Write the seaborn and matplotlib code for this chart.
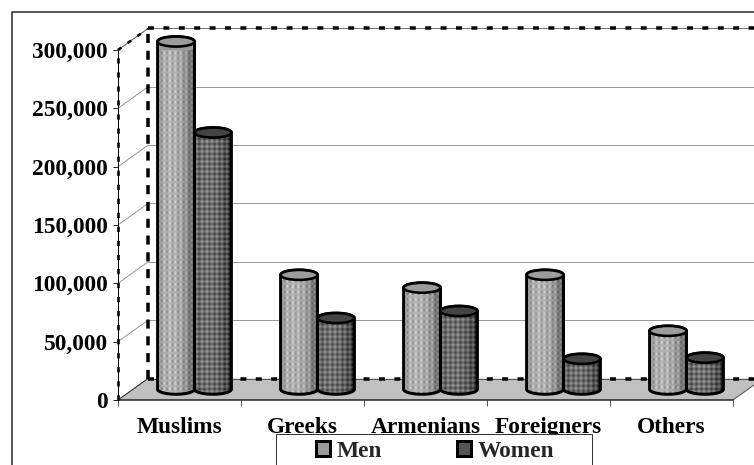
import numpy as np
import pandas as pd
import matplotlib
matplotlib.use("Agg")
import matplotlib.pyplot as plt
import seaborn as sns
from matplotlib.patches import Ellipse, PathPatch, Polygon, Rectangle, Patch
from matplotlib.path import Path
from matplotlib.transforms import Affine2D, IdentityTransform

communities = ["Muslims", "Greeks", "Armenians", "Foreigners", "Others"]
men = [298000, 98000, 87000, 98000, 50000]
women = [220000, 61000, 67000, 26000, 27000]
y_ticks = [0, 50000, 100000, 150000, 200000, 250000, 300000]

W, H = 754, 465
DEPTH_X, DEPTH_Y = 30, 21.5
ELLIPSE_H = 10

sns.set_theme(style="white")
plt.rcParams["font.family"] = ["Liberation Serif", "DejaVu Serif"]
plt.rcParams["font.weight"] = "bold"
FS = 16.8
PX = 0.72  # points per pixel at 100 dpi

fig = plt.figure(figsize=(W / 100, H / 100), dpi=100, facecolor="white")
ax = fig.add_axes([118 / W, (H - 400) / H, 615 / W, 350 / H])
ax.patch.set_visible(False)

df = pd.DataFrame({
    "community": communities * 2,
    "sex": ["Men"] * len(men) + ["Women"] * len(women),
    "count": men + women,
})
sns.barplot(data=df, x="community", y="count", hue="sex", order=communities,
            hue_order=["Men", "Women"], palette=["#9a9a9a", "#555555"],
            width=0.6, gap=0, legend=False, ax=ax, saturation=1)
bars = [p for p in ax.patches if isinstance(p, Rectangle)]
ax.set_xlim(-0.5, 4.5)
ax.set_ylim(0, 300000)
ax.set_xlabel("")
ax.set_ylabel("")
for s in ax.spines.values():
    s.set_visible(False)


def at_depth(f):
    return ax.transData + Affine2D().translate(f * DEPTH_X, f * DEPTH_Y)


# Back wall gridlines and their slanted returns to the front axis
for v in y_ticks[1:-1]:
    ax.plot([-0.5, 4.7], [v, v], transform=at_depth(1), color="#999999",
            lw=1 * PX, clip_on=False, zorder=1)
    a = ax.transData.transform((-0.5, v))
    ax.plot([a[0], a[0] + DEPTH_X], [a[1], a[1] + DEPTH_Y],
            transform=IdentityTransform(), color="#999999", lw=1 * PX,
            clip_on=False, zorder=1)

# Floor
p0 = ax.transData.transform((-0.5, 0))
p1 = ax.transData.transform((4.5, 0))
ax.add_patch(Polygon([p0, p0 + (DEPTH_X, DEPTH_Y), p1 + (DEPTH_X, DEPTH_Y), p1],
                     transform=IdentityTransform(), facecolor="#c0c0c0",
                     edgecolor="none", clip_on=False, zorder=1.5))
ax.plot([p1[0], p1[0] + DEPTH_X], [p1[1], p1[1] + DEPTH_Y],
        transform=IdentityTransform(), color="#555555", lw=1 * PX,
        clip_on=False, zorder=1.6)
ax.plot([-0.5, 4.5], [0, 0], color="#222222", lw=1.5 * PX, clip_on=False, zorder=2)

# Dashed wall outline
top = ax.transData.transform((-0.5, 300000))
ax.plot([-0.5, 4.7], [300000, 300000], transform=at_depth(1), color="#777777",
        lw=1 * PX, clip_on=False, zorder=1.8)
ax.plot([-0.5, 4.7], [300000, 300000], transform=at_depth(1), color="black",
        lw=3.5 * PX, ls=(0, (1.7, 2.7)), clip_on=False, zorder=2, dash_capstyle="butt")
ax.plot([-0.5, 4.7], [0, 0], transform=at_depth(1), color="#555555",
        lw=1 * PX, clip_on=False, zorder=1.8)
ax.plot([-0.5, 4.7], [0, 0], transform=at_depth(1), color="black",
        lw=3.5 * PX, ls=(0, (1.7, 2.7)), clip_on=False, zorder=2, dash_capstyle="butt")
ax.plot([-0.5, -0.5], [0, 300000], transform=at_depth(1), color="black",
        lw=3.5 * PX, ls=(0, (2.6, 2.2)), clip_on=False, zorder=2, dash_capstyle="butt")
ax.plot([-0.5, -0.5], [0, 300000], color="black", lw=1 * PX, clip_on=False, zorder=2)
ax.plot([-0.5, -0.5], [0, 300000], color="black", lw=2.6 * PX,
        ls=(0, (2.0, 3.4)), clip_on=False, zorder=2, dash_capstyle="butt")
for q, c in ((p0, "#222222"), (top, "#555555")):
    ax.plot([q[0], q[0] + DEPTH_X], [q[1], q[1] + DEPTH_Y],
            transform=IdentityTransform(), color=c, lw=1 * PX,
            clip_on=False, zorder=2)
ax.plot([top[0], top[0] + DEPTH_X], [top[1], top[1] + DEPTH_Y],
        transform=IdentityTransform(), color="black", lw=2.6 * PX,
        ls=(0, (1.6, 3.0)), clip_on=False, zorder=2, dash_capstyle="butt")


def shaded_fabric(w, h, dark):
    """Cylinder shading with a woven dot or lattice pattern, one cell per pixel."""
    xs = np.arange(w)
    ys = np.arange(h)
    xx, yy = np.meshgrid(xs, ys)
    u = (xx + 0.5) / w
    body = np.clip(1 - ((u - 0.36) / 0.72) ** 2 * 1.6, 0, 1) ** 0.7
    if dark:
        weave = np.sin(2 * np.pi * (xx + yy) / 10) * np.sin(2 * np.pi * (xx - yy) / 10)
        tone = 0.20 + 0.24 * body + 0.17 * weave
    else:
        weave = np.sin(2 * np.pi * xx / 5.5) * (0.5 + 0.5 * np.sin(2 * np.pi * yy / 5.5))
        tone = 0.34 + 0.36 * body + 0.14 * weave
    return np.clip(tone, 0, 1)


# Turn each flat bar into a textured cylinder standing halfway back on the floor
for i, bar in enumerate(bars):
    bar_tf = at_depth(0.5)
    bar.set_transform(bar_tf)
    bar.set_clip_on(False)
    is_women = i >= len(men)
    z = 3 + (0.5 if is_women else 0) + 0.01 * i
    bar.set_zorder(z)
    (x0, y0), (x1, y1) = bar_tf.transform(
        [(bar.get_x(), bar.get_y()), (bar.get_x() + bar.get_width(), bar.get_y() + bar.get_height())])
    cx, w = (x0 + x1) / 2, x1 - x0
    a, b = w / 2, ELLIPSE_H / 2
    t = np.linspace(0, np.pi, 40)
    lower = np.column_stack([cx - a * np.cos(t), y0 - b * np.sin(t)])
    upper = np.column_stack([cx + a * np.cos(t), y1 + b * np.sin(t)])
    path = Path(np.vstack([lower, upper, lower[:1]]), closed=True)
    ax.add_patch(PathPatch(path, transform=IdentityTransform(), facecolor="none",
                           edgecolor="black", lw=3 * PX, clip_on=False, zorder=z + 0.02))
    extent = [x0 - 1, x1 + 1, y0 - b - 1, y1 + b + 1]
    img_w = int(round(extent[1] - extent[0]))
    img_h = int(round(extent[3] - extent[2]))
    im = ax.imshow(shaded_fabric(img_w, img_h, is_women), cmap="gray", vmin=0, vmax=1,
                   extent=extent, transform=IdentityTransform(), aspect="auto",
                   interpolation="bilinear", zorder=z + 0.01)
    im.set_clip_path(PathPatch(path, transform=IdentityTransform()))
    ax.add_patch(Ellipse((cx, y1), w, ELLIPSE_H, transform=IdentityTransform(),
                         facecolor="#444444" if is_women else "#9c9c9c",
                         edgecolor="black", lw=2.6 * PX, clip_on=False, zorder=z + 0.03))
ax.set_xlim(-0.5, 4.5)
ax.set_ylim(0, 300000)
ax.set_aspect("auto")

# Axis ticks and labels
ax.set_yticks(y_ticks)
ax.set_yticklabels([f"{v:,}" for v in y_ticks], fontsize=FS, fontweight="bold", color="black")
ax.set_xticks(range(len(communities)))
ax.set_xticklabels(communities, fontsize=FS, fontweight="bold", color="black")
ax.set_xticks(np.arange(-0.5, 5), minor=True)
ax.tick_params(axis="y", length=5 * PX, width=1 * PX, color="#222222", pad=5 * PX, left=True)
ax.tick_params(axis="x", which="major", length=0, pad=17 * PX)
ax.tick_params(axis="x", which="minor", length=6 * PX, width=1 * PX, color="#555555", bottom=True)

# Outer chart frame, running off the left-hand bottom and the right edge
frame = [(12, -5), (12, H - 12), (W + 5, H - 12)]
fig.add_artist(plt.Line2D([p[0] / W for p in frame], [p[1] / H for p in frame],
                          color="#222222", lw=1.5 * PX, transform=fig.transFigure))

# Legend box, cut by the bottom edge
fig.add_artist(Rectangle((276 / W, -0.05), 316 / W, (H - 434) / H + 0.05, transform=fig.transFigure,
                         facecolor="white", edgecolor="#333333", lw=1 * PX, zorder=5))
handles = [Patch(facecolor="#9a9a9a", edgecolor="black", lw=3 * PX, label="Men"),
           Patch(facecolor="#555555", edgecolor="black", lw=3 * PX, label="Women")]
leg = fig.legend(handles=handles, ncol=2, loc="center", bbox_to_anchor=(435 / W, (H - 451) / H),
                 frameon=False, fontsize=FS, handlelength=0.6, handleheight=0.6,
                 handletextpad=0.3, columnspacing=3.2, borderpad=0, borderaxespad=0)
leg.set_zorder(6)
for txt in leg.get_texts():
    txt.set_fontweight("bold")

fig.savefig("out.png", dpi=100, facecolor="white")
